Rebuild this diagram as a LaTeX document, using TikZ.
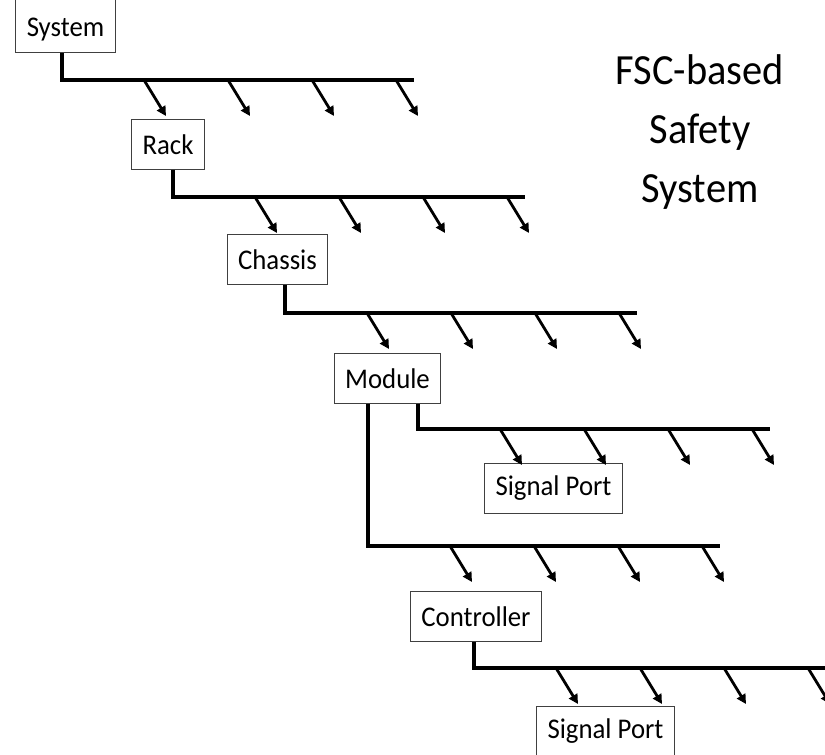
\documentclass[tikz,border=0pt]{standalone}
\usepackage{fontspec}
\setmainfont[FakeStretch=0.94]{Carlito}
\usetikzlibrary{arrows.meta}

\begin{document}
\begin{tikzpicture}[
  x=1pt,y=-1pt,
  >={Triangle[length=9.5pt,width=9.5pt]},
  unit/.style={draw=black!75,line width=0.9pt,fill=white,minimum height=50pt,
    inner xsep=11pt,font=\fontsize{28.5}{33}\selectfont},
  bus/.style={line width=3.3pt},
  tap/.style={->,line width=2.8pt}
]
  \useasboundingbox (0,0) rectangle (825,755);
  \clip (0,0) rectangle (825,755);

  % hierarchy boxes
  \node[unit,anchor=south,inner ysep=4pt,text height=45pt,text depth=12pt]
    (system) at (65.5,53) {System};
  \node[unit] (rack) at (168,144.5) {Rack};
  \node[unit] (chassis) at (277.5,259.5) {Chassis};
  \node[unit] (module) at (387.5,378.5) {Module};
  \node[unit] (port1) at (553.5,488) {Signal Port};
  \node[unit] (controller) at (476,616.5) {Controller};
  \node[unit] (port2) at (605.5,731) {Signal Port};

  \node[align=center,font=\fontsize{43}{59}\selectfont] (title) at (700,132)
    {FSC-based\\Safety\\System};

  % buses below each box
  \coordinate (b1) at (62,80);
  \coordinate (b2) at (173,197);
  \coordinate (b3) at (285,313);
  \coordinate (b4) at (418,429);
  \coordinate (b5) at (368,546);
  \coordinate (b6) at (474,668);
  \draw[bus] (system.south -| b1) -- (b1) -- ++(352,0);
  \draw[bus] (rack.south -| b2) -- (b2) -- ++(352,0);
  \draw[bus] (chassis.south -| b3) -- (b3) -- ++(352,0);
  \draw[bus] (module.south -| b4) -- (b4) -- ++(352,0);
  \draw[bus] (module.south -| b5) -- (b5) -- ++(352,0);
  \draw[bus] (controller.south -| b6) -- (b6) -- ++(352,0);

  % four taps on every bus
  \foreach \b in {b1,b2,b3,b4,b5,b6}
    \foreach \k in {0,...,3}
      \draw[tap,shift={(\b)}] (82+84*\k,0) -- ++(22,36);
\end{tikzpicture}
\end{document}
